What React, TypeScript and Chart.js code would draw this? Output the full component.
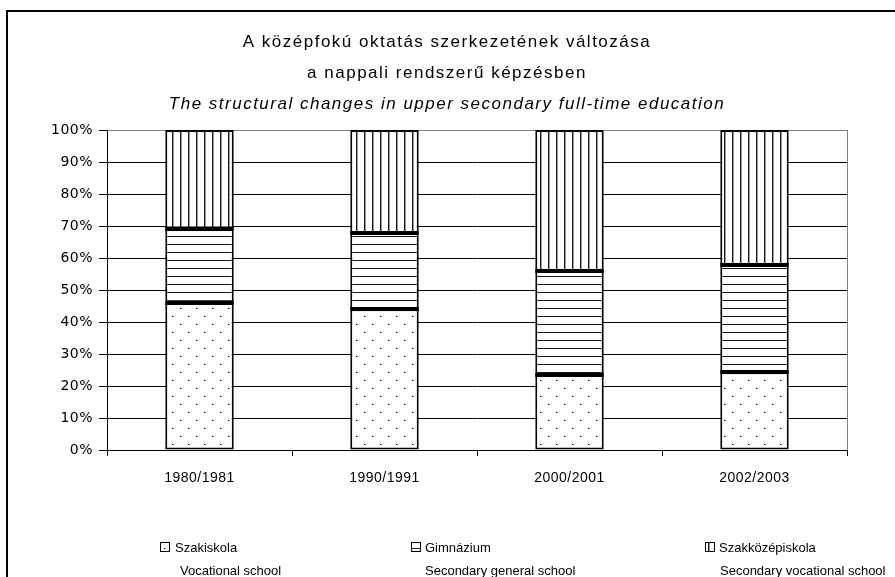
import React, { useEffect, useRef } from 'react';
import { Chart, registerables } from 'chart.js';

Chart.register(...registerables);

const categories = ['1980/1981', '1990/1991', '2000/2001', '2002/2003'];
const szakiskola = [46.0, 44.0, 23.4, 24.3];
const gimnazium = [23.2, 23.8, 32.6, 33.6];
const szakkozep = [30.8, 32.2, 44.0, 42.1];
const yTickLabels = ['0%', '10%', '20%', '30%', '40%', '50%', '60%', '70%', '80%', '90%', '100%'];
const titleLines = ['A középfokú oktatás szerkezetének változása', 'a nappali rendszerű képzésben'];
const subtitleLine = 'The structural changes in upper secondary full-time education';
const legendHu = ['Szakiskola', 'Gimnázium', 'Szakközépiskola'];
const legendEn = ['Vocational school', 'Secondary general school', 'Secondary vocational school'];

const FONT = '"Liberation Sans", Arial, sans-serif';
const YFONT = '"DejaVu Sans", "Liberation Sans", sans-serif';
const LS = '0.5px';

function makePattern(ctx: CanvasRenderingContext2D, kind: string): CanvasPattern {
  const c = document.createElement('canvas');
  const size = kind === 'dots' ? 16 : 8;
  c.width = size;
  c.height = size;
  const g = c.getContext('2d') as CanvasRenderingContext2D;
  g.fillStyle = '#ffffff';
  g.fillRect(0, 0, size, size);
  if (kind === 'dots') {
    g.fillStyle = '#000000';
    g.fillRect(4, 4, 1, 1);
    g.fillRect(12, 12, 1, 1);
    g.fillStyle = '#999999';
    g.fillRect(5, 4, 1, 1);
    g.fillRect(13, 12, 1, 1);
  } else if (kind === 'h') {
    g.fillStyle = '#1a1a1a';
    g.fillRect(0, 4, 8, 1);
  } else {
    g.fillStyle = '#1a1a1a';
    g.fillRect(4, 0, 1, 8);
    g.fillStyle = '#9a9a9a';
    g.fillRect(5, 0, 1, 8);
  }
  return ctx.createPattern(c, 'repeat') as CanvasPattern;
}

export default function App() {
  const ref = useRef<HTMLCanvasElement | null>(null);

  useEffect(() => {
    const canvas = ref.current;
    if (!canvas) return;
    const ctx = canvas.getContext('2d') as CanvasRenderingContext2D;
    const patterns = [makePattern(ctx, 'dots'), makePattern(ctx, 'h'), makePattern(ctx, 'v')];

    const decor = {
      id: 'decor',
      beforeUpdate(chart: any) {
        chart.ctx.letterSpacing = LS;
      },
      beforeDraw(chart: any) {
        const c = chart.ctx as CanvasRenderingContext2D;
        c.save();
        c.fillStyle = '#ffffff';
        c.fillRect(0, 0, chart.width, chart.height);
        c.strokeStyle = '#000000';
        c.lineWidth = 2;
        c.beginPath();
        c.moveTo(7, chart.height + 5);
        c.lineTo(7, 11);
        c.lineTo(chart.width + 5, 11);
        c.stroke();
        c.restore();
        c.letterSpacing = LS;
      },
      afterDatasetsDraw(chart: any) {
        // emphasise the boundaries between stacked segments (tops of lower segments)
        const c = chart.ctx as CanvasRenderingContext2D;
        c.save();
        c.fillStyle = '#000000';
        for (let d = 0; d < 2; d++) {
          const meta = chart.getDatasetMeta(d);
          meta.data.forEach((bar: any) => {
            const half = bar.width / 2;
            const y = Math.round(bar.y);
            c.fillRect(bar.x - half, y - 2, bar.width, 4);
          });
        }
        c.restore();
      },
      afterDraw(chart: any) {
        const c = chart.ctx as CanvasRenderingContext2D;
        const a = chart.chartArea;
        c.save();
        c.strokeStyle = '#808080';
        c.lineWidth = 1;
        c.beginPath();
        c.moveTo(Math.round(a.right) + 0.5, a.top);
        c.lineTo(Math.round(a.right) + 0.5, a.bottom);
        c.stroke();
        c.fillStyle = '#000000';
        c.textAlign = 'center';
        c.textBaseline = 'middle';
        c.letterSpacing = '1.5px';
        c.font = `17px ${FONT}`;
        c.fillText(titleLines[0], 447, 42);
        c.fillText(titleLines[1], 447, 73);
        c.font = `italic 17px ${FONT}`;
        c.fillText(subtitleLine, 447, 104);
        c.letterSpacing = '0px';
        c.font = `13px ${FONT}`;
        c.textAlign = 'left';
        const boxX = [160, 411, 705];
        const textX = [175, 425, 719];
        const line2X = [180, 425, 720];
        for (let i = 0; i < 3; i++) {
          c.fillStyle = patterns[i];
          c.fillRect(boxX[i], 542, 10, 10);
          c.strokeStyle = '#000000';
          c.lineWidth = 1;
          c.strokeRect(boxX[i] + 0.5, 542.5, 9, 9);
          c.fillStyle = '#000000';
          c.fillText(legendHu[i], textX[i], 548);
          c.fillText(legendEn[i], line2X[i], 571);
        }
        c.restore();
      },
    };

    const chart = new Chart(canvas, {
      type: 'bar',
      data: {
        labels: categories,
        datasets: [
          { label: legendHu[0], data: szakiskola, backgroundColor: patterns[0] as any },
          { label: legendHu[1], data: gimnazium, backgroundColor: patterns[1] as any },
          { label: legendHu[2], data: szakkozep, backgroundColor: patterns[2] as any },
        ].map((d) => ({
          ...d,
          borderColor: '#000000',
          borderWidth: 2,
          borderSkipped: false,
          inflateAmount: 0,
          barPercentage: 0.37,
          categoryPercentage: 1,
        })),
      },
      options: {
        responsive: false,
        animation: false,
        events: [],
        layout: { padding: { top: 130, right: 48, bottom: 0, left: 0 } },
        plugins: {
          legend: { display: false },
          title: { display: false },
          tooltip: { enabled: false },
        },
        scales: {
          x: {
            stacked: true,
            offset: true,
            grid: {
              display: true,
              drawOnChartArea: false,
              drawTicks: true,
              tickLength: 6,
              color: '#000000',
              offset: true,
            },
            border: { display: true, color: '#000000', width: 1 },
            ticks: { color: '#000000', padding: 14, font: { family: FONT, size: 14 } },
            afterFit: (s: any) => {
              s.height = 127;
            },
          },
          y: {
            stacked: true,
            min: 0,
            max: 100,
            grid: {
              color: (c: any) => (c.tick && c.tick.value === 100 ? '#808080' : '#000000'),
              tickColor: '#000000',
              tickLength: 8,
              drawTicks: true,
            },
            border: { display: true, color: '#000000', width: 1 },
            ticks: {
              stepSize: 10,
              color: '#000000',
              padding: 6,
              font: { family: YFONT, size: 14 },
              callback: (v: any) => yTickLabels[Math.round(Number(v) / 10)],
            },
            afterFit: (s: any) => {
              s.width = 107;
            },
          },
        },
      },
      plugins: [decor],
    });

    return () => chart.destroy();
  }, []);

  return (
    <div style={{ position: 'absolute', left: 0, top: 0, width: 895, height: 577 }}>
      <canvas ref={ref} width={895} height={577} style={{ display: 'block', width: 895, height: 577 }} />
    </div>
  );
}
